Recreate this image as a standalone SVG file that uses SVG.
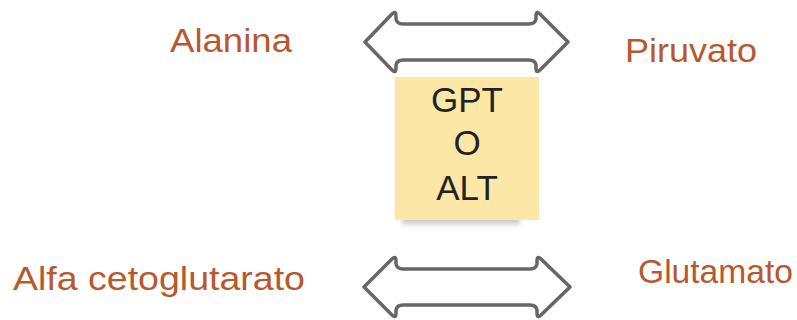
<svg xmlns="http://www.w3.org/2000/svg" width="797" height="320" viewBox="0 0 797 320">
  <style>
    .label { font-family: "Liberation Sans", Arial, sans-serif; font-size: 34px; fill: #b8582f; }
    .note { font-family: "Liberation Sans", Arial, sans-serif; font-size: 35px; fill: #222222; text-anchor: middle; }
    .arrow { fill: #ffffff; stroke: #666666; stroke-width: 3.5; stroke-linejoin: round; }
  </style>
  <defs>
    <linearGradient id="shadowGrad" x1="0" y1="0" x2="0" y2="1">
      <stop offset="0" stop-color="#9a9a9a" stop-opacity="0.8"/>
      <stop offset="1" stop-color="#9a9a9a" stop-opacity="0"/>
    </linearGradient>
    <filter id="soft" x="-10%" y="-50%" width="120%" height="200%">
      <feGaussianBlur stdDeviation="2"/>
    </filter>
  </defs>

  <rect width="797" height="320" fill="#ffffff"/>

  <!-- substrate / product labels -->
  <g id="alanina"><text class="label" x="170" y="52" textLength="122" lengthAdjust="spacingAndGlyphs">Alanina</text></g>
  <g id="piruvato"><text class="label" x="625" y="62" textLength="132" lengthAdjust="spacingAndGlyphs">Piruvato</text></g>
  <g id="alfa-cetoglutarato"><text class="label" x="13" y="290" textLength="292" lengthAdjust="spacingAndGlyphs">Alfa cetoglutarato</text></g>
  <g id="glutamato"><text class="label" x="638" y="283" textLength="155" lengthAdjust="spacingAndGlyphs">Glutamato</text></g>

  <!-- enzyme sticky note -->
  <g id="enzyme">
    <rect x="402" y="218" width="118" height="9" fill="url(#shadowGrad)" filter="url(#soft)"/>
    <rect x="395" y="77" width="144" height="143" fill="#fde7a6"/>
    <text class="note" x="467" y="112">GPT</text>
    <text class="note" x="467" y="155">O</text>
    <text class="note" x="467" y="200">ALT</text>
  </g>

  <!-- reversible reaction arrows (double-headed block arrows with softened joins) -->
  <g id="connectors">
    <path class="arrow" d="M365,42 L392,14 Q396,10 396,16 L396,19 Q397,24 403,24 L529,24 Q535,24 536,19 L536,16 Q536,10 540,14 L568,42 L540,70 Q536,74 536,68 L536,65 Q535,60 529,60 L403,60 Q397,60 396,65 L396,68 Q396,74 392,70 Z"/>
    <path class="arrow" d="M364,287 L392,259 Q396,255 396,261 L396,264 Q397,269 403,269 L530,269 Q536,269 537,264 L537,261 Q537,255 541,259 L570,287 L541,315 Q537,319 537,313 L537,310 Q536,305 530,305 L403,305 Q397,305 396,310 L396,313 Q396,319 392,315 Z"/>
  </g>
</svg>
